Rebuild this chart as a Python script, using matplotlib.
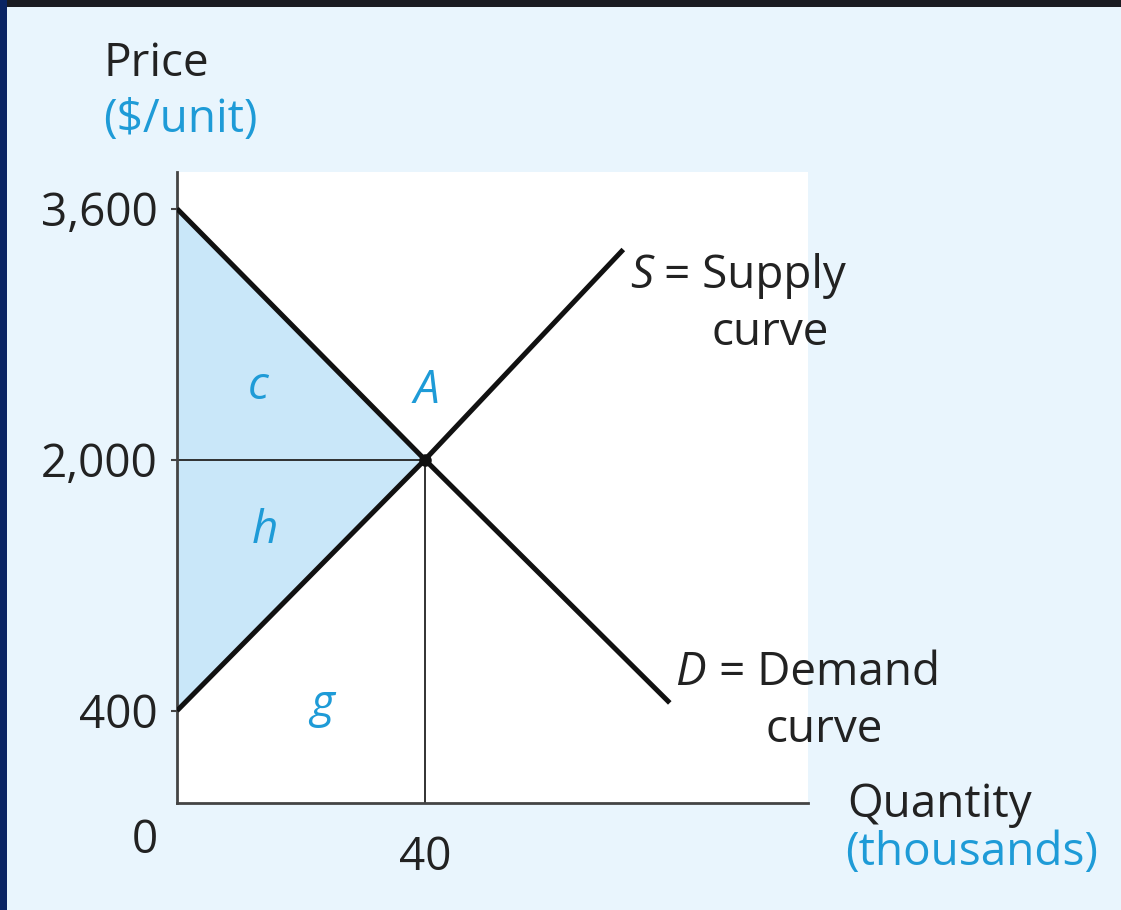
import matplotlib.pyplot as plt
from matplotlib.patches import Rectangle
import numpy as np

plt.rcParams['font.family'] = ['Open Sans', 'DejaVu Sans']

# --- data ---
supply_q = [0, 40, 72]
supply_p = [400, 2000, 3340]
demand_q = [0, 40, 79.5]
demand_p = [3600, 2000, 450]
eq_q = 40
eq_p = 2000
price_ticks = [400, 2000, 3600]
price_labels = ['400', '2,000', '3,600']
qty_ticks = [40]
qty_labels = ['40']

BLUE = '#1e9bd7'
FILL = '#c9e7f9'
BG = '#e9f5fd'
FS = 33

fig = plt.figure(figsize=(11.21, 9.10), dpi=100)
fig.patch.set_facecolor(BG)
W, H = 1121.0, 910.0

# frame bits at the top and left edge
fig.patches.append(Rectangle((0, 1 - 7 / H), 1, 7 / H, transform=fig.transFigure,
                             facecolor='#1b1c22', edgecolor='none', zorder=0))
fig.patches.append(Rectangle((0, 0), 7 / W, 1, transform=fig.transFigure,
                             facecolor='#0a2463', edgecolor='none', zorder=0))

ax = fig.add_axes([177 / W, (H - 803) / H, (808 - 177) / W, (803 - 172) / H])
ax.set_facecolor('white')
ax.set_xlim(0, 101.8)
ax.set_ylim(-188, 3834)

# shaded area between the curves
q = np.array([0, eq_q])
ax.fill_between(q, np.interp(q, supply_q, supply_p), np.interp(q, demand_q, demand_p),
                color=FILL, linewidth=0, zorder=1)

# guide lines
ax.plot([0, eq_q], [eq_p, eq_p], color='#222222', lw=1.3, zorder=2)
ax.plot([eq_q, eq_q], [-188, eq_p], color='#222222', lw=1.3, zorder=2)

ax.plot(supply_q, supply_p, color='#111111', lw=3.6, solid_capstyle='butt', zorder=3)
ax.plot(demand_q, demand_p, color='#111111', lw=3.6, solid_capstyle='butt', zorder=3)
ax.plot([eq_q], [eq_p], 'o', color='#111111', markersize=8, zorder=4)

for s in ['top', 'right']:
    ax.spines[s].set_visible(False)
for s in ['left', 'bottom']:
    ax.spines[s].set_color('#444444')
    ax.spines[s].set_linewidth(2)

ax.set_yticks(price_ticks)
ax.set_yticklabels(price_labels)
ax.set_xticks(qty_ticks)
ax.set_xticklabels(qty_labels)
ax.tick_params(axis='y', length=4, width=1.5, color='#444444', pad=10, labelsize=FS,
               labelcolor='#222222')
ax.tick_params(axis='x', length=0, pad=23, labelsize=FS, labelcolor='#222222')

# area labels
ax.text(13.1, 2387, 'c', color=BLUE, fontsize=FS, style='italic', ha='center', va='baseline')
ax.text(40.3, 2361, 'A', color=BLUE, fontsize=FS, style='italic', ha='center', va='baseline')
ax.text(14.2, 1469, 'h', color=BLUE, fontsize=FS, style='italic', ha='center', va='baseline')
ax.text(23.4, 360, 'g', color=BLUE, fontsize=FS, style='italic', ha='center', va='baseline')

def px(x, y):
    return x / W, 1 - y / H

# curve labels
fig.text(*px(630, 288), 'S', fontsize=FS, style='italic', color='#222222', va='baseline')
fig.text(*px(664, 288), '= Supply', fontsize=FS, color='#222222', va='baseline')
fig.text(*px(712, 345), 'curve', fontsize=FS, color='#222222', va='baseline')
fig.text(*px(675, 685), 'D', fontsize=FS, style='italic', color='#222222', va='baseline')
fig.text(*px(719, 685), '= Demand', fontsize=FS, color='#222222', va='baseline')
fig.text(*px(765, 742), 'curve', fontsize=FS, color='#222222', va='baseline')

# axis titles
fig.text(*px(104, 76), 'Price', fontsize=FS, color='#222222', va='baseline')
fig.text(*px(103, 132), '($/unit)', fontsize=FS, color=BLUE, va='baseline')
fig.text(*px(847, 817), 'Quantity', fontsize=FS, color='#222222', va='baseline')
fig.text(*px(845, 865), '(thousands)', fontsize=FS, color=BLUE, va='baseline')
fig.text(*px(145, 853), '0', fontsize=FS, color='#222222', ha='center', va='baseline')

fig.savefig('out.png', dpi=100, facecolor=fig.get_facecolor())
